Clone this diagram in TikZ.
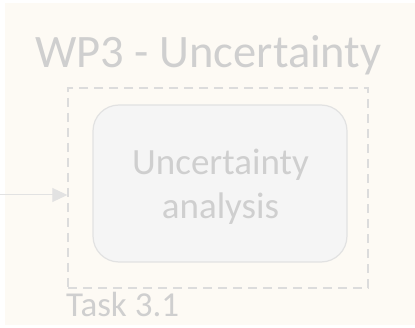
\documentclass[tikz,border=0pt]{standalone}
\usepackage{fontspec}
\setmainfont{Carlito}
\usetikzlibrary{arrows.meta}
\definecolor{paper}{HTML}{FDFAF4}
\definecolor{ink}{HTML}{CFCFCF}
\definecolor{boxfill}{HTML}{F5F5F5}
\definecolor{boxline}{HTML}{E2E2E2}
\definecolor{frameline}{HTML}{DCDCDC}
\tikzset{
  x=1pt, y=-1pt,
  label text/.style={text=ink, inner sep=0pt},
  taskframe/.style={draw=frameline, line width=1.4pt, dash pattern=on 9pt off 6pt,
    minimum width=300pt, minimum height=200pt, inner sep=0pt},
  taskbox/.style={draw=boxline, fill=boxfill, line width=1.2pt, rounded corners=26pt,
    minimum width=254pt, minimum height=157pt, inner sep=0pt},
  feed/.style={draw=boxline, line width=1pt, -{Triangle[length=15pt,width=14pt]}}
}
\begin{document}
\begin{tikzpicture}
  \useasboundingbox (0,0) rectangle (415,328);
  \fill[white] (0,0) rectangle (415,328);
  \fill[paper] (5,3) rectangle (415,325);
  \node[label text, anchor=base, font=\fontsize{46.5}{54}\selectfont] (title) at (208.5,68) {WP3 - Uncertainty};
  \node[taskframe] (frame) at (218,188) {};
  \node[taskbox] (box) at (220,183.5) {};
  \node[label text, align=center, font=\fontsize{37}{44}\selectfont] (boxtext) at (220.5,187) {Uncertainty\\analysis};
  \node[label text, anchor=base west, font=\fontsize{35}{40}\selectfont] (task) at (66,317) {Task 3.1};
  \coordinate (src) at (0,195);
  \draw[feed] (src) -- (src -| frame.west);
\end{tikzpicture}
\end{document}
